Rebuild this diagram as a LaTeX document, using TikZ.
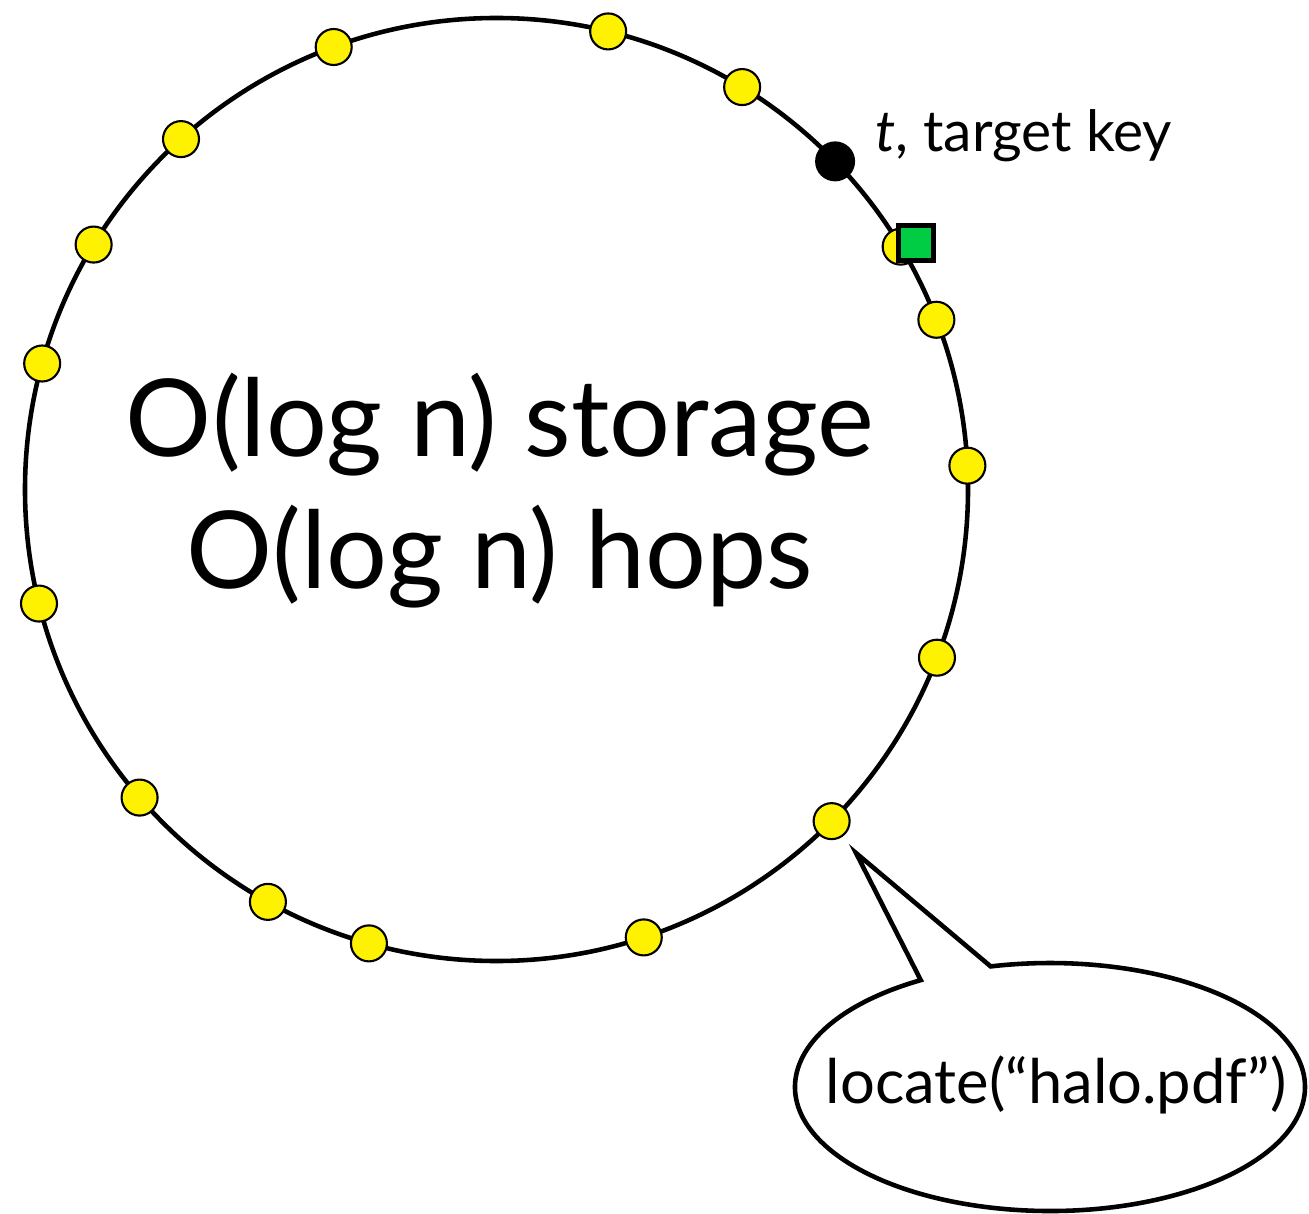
\documentclass[tikz,border=0pt]{standalone}
\usepackage{fontspec}
\setmainfont{Lato}
\usetikzlibrary{shapes.callouts}
\definecolor{keygreen}{RGB}{0,204,68}
\tikzset{
  peer/.style={circle, draw, fill=yellow, line width=0.6pt, minimum size=0.36cm, inner sep=0},
  target/.style={circle, fill=black, minimum size=0.4cm, inner sep=0},
  owner/.style={rectangle, draw, fill=keygreen, line width=1.3pt, minimum size=0.345cm, inner sep=0},
}

\begin{document}
\begin{tikzpicture}
\useasboundingbox (-4.965,-7.235) rectangle (8.125,4.895);

\draw [line width=1.3pt] (0,0) circle (4.715);
\foreach \a [count=\i] in {110.2,76.3,58.6,21.1,2.9,-20.9,-44.7,-71.8,-105.7,-119,-139.2,-166,164.5,148.7,132,31}
  \node [peer] (p\i) at (\a:4.715) {};
\node [target] (t) at (44.1:4.715) {};
\node [owner] (o) at (4.195,2.465) {};
\node [anchor=base west, inner sep=0, font=\fontsize{16.2}{19}\selectfont] (tlabel) at (3.785,3.375) {\textit{t}, target key};

\node [anchor=base, font=\fontsize{30.6}{36}\selectfont] (storage) at (0.035,0.325) {O(log n) storage};
\node [anchor=base, font=\fontsize{30.6}{36}\selectfont] (hops) at (0.035,-0.985) {O(log n) hops};

\coordinate (tip) at (3.595,-3.635);
\node [ellipse callout, draw, line width=1.3pt, minimum width=5.1cm, minimum height=2.48cm, inner sep=0,
  callout absolute pointer={(tip)}, callout pointer arc=17] (bubble) at (5.535,-5.975) {};
\node [anchor=base, font=\fontsize{17.5}{21}\selectfont] (locate) at (5.595,-6.135) {locate(``halo.pdf'')};
\end{tikzpicture}
\end{document}
